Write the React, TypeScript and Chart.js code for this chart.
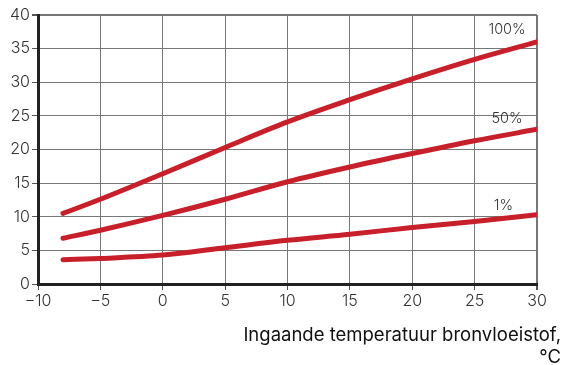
import React, { useEffect, useRef } from "react";
import { Chart, registerables } from "chart.js";
Chart.register(...registerables);

const xValues = [-8, -5, 0, 5, 10, 15, 20, 25, 30];
const series100 = [10.5, 12.6, 16.4, 20.3, 24.1, 27.4, 30.5, 33.4, 36.0];
const series50 = [6.8, 8.0, 10.2, 12.6, 15.2, 17.4, 19.4, 21.3, 23.0];
const series1 = [3.6, 3.8, 4.3, 5.4, 6.5, 7.4, 8.4, 9.3, 10.3];
const curveLabels = ["100%", "50%", "1%"];
const labelX = [27.6, 27.6, 27.3];
const labelY = [37.8, 24.6, 11.6];
const xTitle = ["Ingaande temperatuur bronvloeistof,", "°C"];

const RED = "#c8202b";

const labelPlugin = {
  id: "curveLabels",
  afterDatasetsDraw(chart: any) {
    const { ctx, scales } = chart;
    ctx.save();
    ctx.fillStyle = "#333";
    ctx.font = "300 14.5px Inter";
    ctx.textAlign = "center";
    ctx.textBaseline = "middle";
    curveLabels.forEach((t, i) => {
      ctx.fillText(t, scales.x.getPixelForValue(labelX[i]), scales.y.getPixelForValue(labelY[i]));
    });
    ctx.font = "400 18.5px Inter";
    ctx.fillStyle = "#111";
    ctx.textAlign = "right";
    ctx.textBaseline = "middle";
    const w = chart.width;
    ctx.fillText(xTitle[0], w - 2, 335);
    ctx.fillText(xTitle[1], w - 2, 357);
    ctx.restore();
  },
};

export default function App() {
  const ref = useRef<HTMLCanvasElement>(null);
  useEffect(() => {
    const mk = (data: number[]) => ({
      data: xValues.map((x, i) => ({ x, y: data[i] })),
      borderColor: RED,
      borderWidth: 5,
      pointRadius: 0,
      tension: 0.4,
      cubicInterpolationMode: "monotone" as const,
      borderCapStyle: "round" as const,
      fill: false,
    });
    const chart = new Chart(ref.current!, {
      type: "line",
      data: { datasets: [mk(series100), mk(series50), mk(series1)] },
      plugins: [labelPlugin],
      options: {
        animation: false,
        responsive: false,
        layout: { padding: { top: 15, right: 26, left: 0, bottom: 0 } },
        plugins: { legend: { display: false }, tooltip: { enabled: false } },
        scales: {
          x: {
            type: "linear",
            min: -10,
            max: 30,
            afterFit: (s: any) => { s.height = 81; },
            ticks: {
              stepSize: 5,
              color: "#333",
              font: { family: "Inter", size: 16, weight: 300 },
              padding: 2,
              callback: (v: any) => (v < 0 ? "\u2212" + Math.abs(v) : String(v)),
            },
            grid: {
              color: "#777",
              lineWidth: (c: any) => (c.tick && c.tick.value === 30 ? 2 : 1),
              tickLength: 6,
              tickColor: "#555",
            },
            border: { color: "#222", width: 3 },
          },
          y: {
            min: 0,
            max: 40,
            afterFit: (s: any) => { s.width = 38; },
            ticks: {
              stepSize: 5,
              color: "#333",
              font: { family: "Inter", size: 16, weight: 300 },
              padding: 2,
            },
            grid: {
              color: "#777",
              lineWidth: (c: any) => (c.tick && c.tick.value === 40 ? 2 : 1),
              tickLength: 6,
              tickColor: "#555",
            },
            border: { color: "#222", width: 3 },
          },
        },
      },
    });
    return () => chart.destroy();
  }, []);
  return (
    <div style={{ position: "absolute", left: 0, top: 0, width: 563, height: 365, background: "#fff" }}>
      <canvas ref={ref} width={563} height={365} style={{ width: 563, height: 365 }} />
    </div>
  );
}
